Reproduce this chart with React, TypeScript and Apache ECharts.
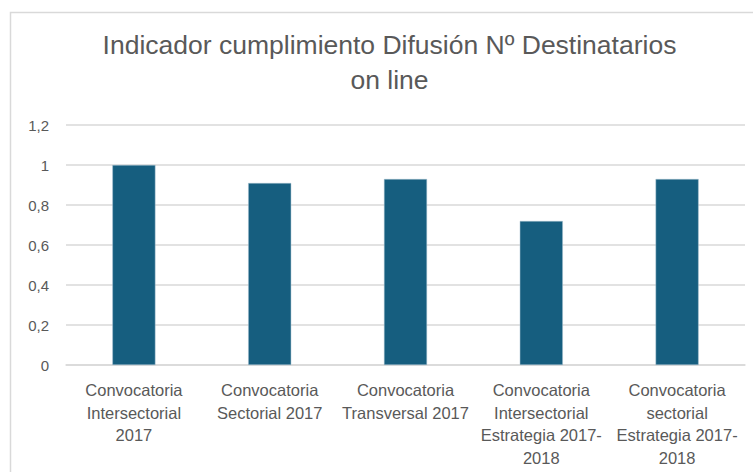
import React, { useEffect, useRef } from "react";
import * as echarts from "echarts";

const titleLines = ["Indicador cumplimiento Difusión Nº Destinatarios", "on line"];
const categories = [
  "Convocatoria\nIntersectorial\n2017",
  "Convocatoria\nSectorial 2017",
  "Convocatoria\nTransversal 2017",
  "Convocatoria\nIntersectorial\nEstrategia 2017-\n2018",
  "Convocatoria\nsectorial\nEstrategia 2017-\n2018",
];
const values = [1.0, 0.91, 0.93, 0.72, 0.93];
const yMin = 0;
const yMax = 1.2;
const yInterval = 0.2;

export default function App() {
  const ref = useRef<HTMLDivElement>(null);
  useEffect(() => {
    if (!ref.current) return;
    const chart = echarts.init(ref.current, undefined, { renderer: "svg" });
    chart.setOption({
      animation: false,
      backgroundColor: "#ffffff",
      graphic: [
        {
          type: "rect",
          shape: { x: 10.5, y: 12.5, width: 800, height: 520 },
          style: { fill: "none", stroke: "#d9d9d9", lineWidth: 1.5 },
          silent: true,
        },
        {
          type: "text",
          x: 389.5,
          y: 27,
          style: {
            text: titleLines.join("\n"),
            fill: "#595959",
            font: "26.5px 'Liberation Sans', sans-serif",
            textAlign: "center",
            lineHeight: 35,
          },
        },
      ],
      grid: { left: 66, right: 8, top: 125, bottom: 107, containLabel: false },
      xAxis: {
        type: "category",
        data: categories,
        axisLine: { show: true, lineStyle: { color: "#d9d9d9", width: 1.5 } },
        axisTick: { show: false },
        axisLabel: {
          interval: 0,
          color: "#595959",
          fontSize: 16.5,
          fontFamily: "'Liberation Sans', sans-serif",
          lineHeight: 22.5,
          margin: 14,
          verticalAlign: "top",
        },
      },
      yAxis: {
        type: "value",
        min: yMin,
        max: yMax,
        interval: yInterval,
        axisLine: { show: false },
        axisTick: { show: false },
        splitLine: { lineStyle: { color: "#d9d9d9", width: 1.5 } },
        axisLabel: {
          color: "#595959",
          fontSize: 15,
          fontFamily: "'Liberation Sans', sans-serif",
          margin: 17,
          formatter: (v: number) => String(Math.round(v * 10) / 10).replace(".", ","),
        },
      },
      series: [
        {
          type: "bar",
          data: values,
          barWidth: "31.7%",
          itemStyle: { color: "#165e7f", borderColor: "#a9c3d1", borderWidth: 0.5 },
        },
      ],
    });
    return () => chart.dispose();
  }, []);
  return (
    <div
      ref={ref}
      style={{ position: "absolute", left: 0, top: 0, width: 753, height: 472 }}
    />
  );
}
